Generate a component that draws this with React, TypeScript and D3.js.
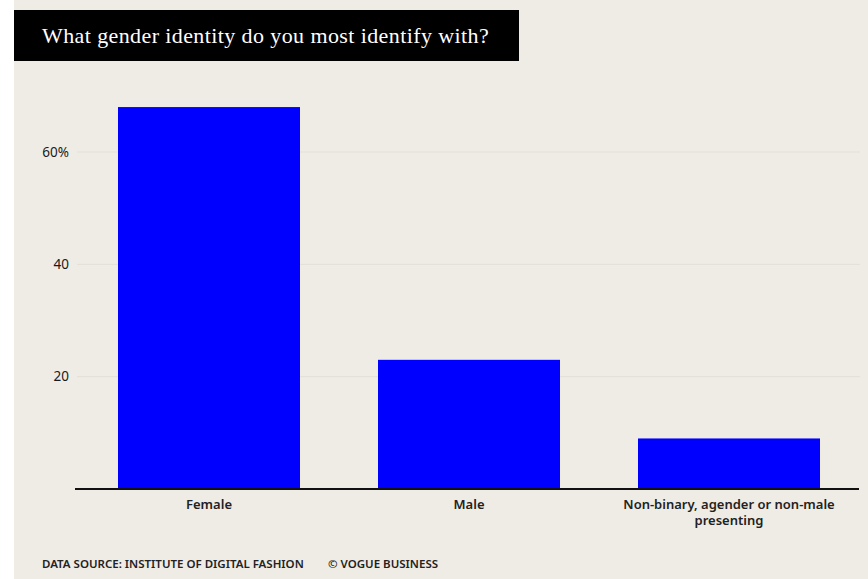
import React from "react";
import * as d3 from "d3";

const categories = ["Female", "Male", "Non-binary, agender or non-male presenting"];
const categoryLines = [["Female"], ["Male"], ["Non-binary, agender or non-male", "presenting"]];
const values = [68, 23, 9];
const yTicks = [20, 40, 60];
const yTickLabels = ["20", "40", "60%"];
const title = "What gender identity do you most identify with?";
const sourceText = "DATA SOURCE: INSTITUTE OF DIGITAL FASHION";
const creditText = "© VOGUE BUSINESS";

const W = 868;
const H = 579;
const BG = "#efece5";
const BAR = "#0000ff";
const SANS = "'Noto Sans', 'DejaVu Sans', sans-serif";
const SERIF = "'Liberation Serif', 'DejaVu Serif', serif";

export default function App() {
  const x = d3.scaleBand<string>().domain(categories).range([79, 859]).paddingInner(0.3).paddingOuter(0.15);
  const y = d3.scaleLinear().domain([0, 60]).range([489, 152]);

  return (
    <div style={{ position: "fixed", left: 0, top: 0, width: W, height: H }}>
      <svg width={W} height={H} style={{ display: "block" }}>
        <rect x={0} y={0} width={W} height={H} fill="#ffffff" />
        <rect x={14} y={0} width={W - 14} height={H} fill={BG} />
        <rect x={14} y={10} width={505} height={51} fill="#000" />
        <text x={42} y={43} fill="#fff" fontFamily={SERIF} fontSize={22} letterSpacing={0.4}>{title}</text>

        {yTicks.map((t, i) => (
          <g key={t}>
            <line x1={77} x2={860} y1={y(t)} y2={y(t)} stroke="#e2dfd8" strokeWidth={1} />
            <text x={69} y={y(t)} dy="0.35em" textAnchor="end" fontFamily={SANS} fontSize={13.5} fill="#1a1a1a">{yTickLabels[i]}</text>
          </g>
        ))}

        {categories.map((c, i) => (
          <rect key={c} x={x(c)} y={y(values[i])} width={x.bandwidth()} height={y(0) - y(values[i])} fill={BAR} />
        ))}

        <line x1={75} x2={859} y1={y(0)} y2={y(0)} stroke="#111" strokeWidth={2} />

        {categories.map((c, i) =>
          categoryLines[i].map((l, j) => (
            <text key={c + j} x={(x(c) as number) + x.bandwidth() / 2} y={508.5 + j * 16.5} textAnchor="middle" fontFamily={SANS} fontSize={13} fontWeight={600} fill="#222">{l}</text>
          ))
        )}

        <text x={42} y={568} fontFamily={SANS} fontSize={11.5} fontWeight={600} fill="#222">{sourceText}</text>
        <text x={328} y={568} fontFamily={SANS} fontSize={11.5} fontWeight={600} fill="#222">{creditText}</text>
      </svg>
    </div>
  );
}
